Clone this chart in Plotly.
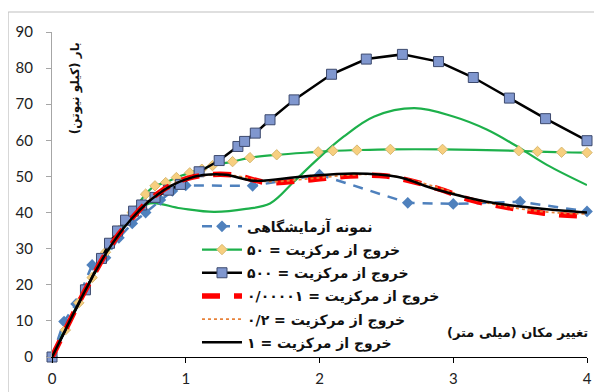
import plotly.graph_objects as go

# ---------------- data ----------------
exp_x = [0, 0.09, 0.18, 0.30, 0.40, 0.50, 0.60, 0.70, 0.81, 0.90, 1.0, 1.50, 2.0, 2.66, 3.0, 3.5, 4.0]
exp_y = [0, 9.8, 14.7, 25.5, 27.5, 33.0, 37.0, 40.0, 43.5, 46.0, 47.5, 47.4, 50.5, 42.7, 42.4, 43.0, 40.3]

e50_x = [0, 0.1, 0.2, 0.3, 0.4, 0.5, 0.6, 0.7, 0.77, 0.85, 0.93, 1.03, 1.12, 1.20, 1.35, 1.48, 1.68, 1.99, 2.10, 2.28, 2.53, 2.92, 3.49, 3.63, 3.81, 4.0]
e50_y = [0, 7.5, 15, 22, 29, 35, 40, 45.1, 47.4, 48.3, 49.7, 51.0, 52.0, 53.0, 54.1, 55.2, 56.0, 56.8, 57.1, 57.3, 57.5, 57.5, 57.1, 56.9, 56.7, 56.6]

e500_x = [0, 0.25, 0.37, 0.43, 0.49, 0.55, 0.61, 0.67, 0.77, 0.87, 0.96, 1.10, 1.25, 1.39, 1.44, 1.52, 1.63, 1.81, 2.09, 2.35, 2.62, 2.89, 3.15, 3.42, 3.69, 4.0]
e500_y = [0, 18.6, 27.3, 31.5, 34.9, 37.9, 40.4, 42.1, 44.2, 46.2, 47.8, 51.3, 54.4, 58.3, 59.7, 62.0, 65.7, 71.2, 78.3, 82.5, 83.8, 81.8, 77.4, 71.7, 66.0, 59.9]

eg_x = [0, 0.1, 0.2, 0.3, 0.4, 0.5, 0.6, 0.73, 0.96, 1.21, 1.45, 1.63, 1.81, 1.98, 2.18, 2.41, 2.71, 3.0, 3.25, 3.46, 3.70, 4.0]
eg_y = [0, 8, 15, 22, 28, 34, 39, 42.5, 41.2, 40.2, 41.0, 42.5, 48.6, 54.6, 61.0, 66.6, 68.9, 66.6, 63.0, 58.7, 53.2, 47.6]

e00001_x = [0, 0.1, 0.2, 0.3, 0.4, 0.5, 0.6, 0.7, 0.8, 0.9, 1.0, 1.15, 1.36, 1.61, 1.91, 2.23, 2.5, 2.88, 3.13, 3.38, 3.68, 3.98]
e00001_y = [0, 7.5, 15, 22, 28.5, 34, 38.5, 42.5, 45.5, 47.8, 49.3, 50.4, 50.4, 48.3, 49.0, 50.1, 50.1, 46.7, 43.5, 41.6, 39.8, 39.0]

e02_x = [0, 0.1, 0.2, 0.3, 0.4, 0.5, 0.6, 0.7, 0.8, 0.9, 1.0, 1.15, 1.36, 1.61, 1.91, 2.23, 2.5, 2.88, 3.13, 3.38, 3.68, 4.0]
e02_y = [0, 7.5, 15, 22, 28.5, 34, 38.5, 42.5, 45.5, 47.8, 49.3, 50.3, 50.2, 48.6, 49.3, 50.4, 50.4, 47.0, 43.8, 41.8, 40.2, 39.6]

e1_x = [0, 0.1, 0.2, 0.3, 0.4, 0.5, 0.6, 0.7, 0.8, 0.9, 1.0, 1.13, 1.30, 1.51, 1.88, 2.26, 2.58, 2.88, 3.25, 3.63, 4.0]
e1_y = [0, 7.5, 15, 22, 28.5, 34, 38.5, 42.3, 45.3, 47.6, 49.2, 50.4, 50.5, 48.8, 50.0, 50.8, 49.9, 46.3, 43.0, 41.2, 40.0]

names = [
    "نمونه آزمایشگاهی",
    "خروج از مرکزیت = ۵۰",
    "خروج از مرکزیت = ۵۰۰",
    "خروج از مرکزیت = ۰/۰۰۰۰۱",
    "خروج از مرکزیت = ۰/۲",
    "خروج از مرکزیت = ۱",
]
x_ticks = [0, 1, 2, 3, 4]
y_ticks = [0, 10, 20, 30, 40, 50, 60, 70, 80, 90]
y_title = "بار (کیلو نیوتن)"
x_title = "تغییر مکان (میلی متر)"

# ---------------- figure ----------------
fig = go.Figure()

fig.add_trace(go.Scatter(x=eg_x, y=eg_y, mode="lines", showlegend=False,
                         line=dict(color="#1db04b", width=2.2, shape="spline")))

fig.add_trace(go.Scatter(x=exp_x, y=exp_y, mode="lines+markers", name=names[0], legendgroup="g0",
                         cliponaxis=False,
                         line=dict(color="#4f81bd", width=2.5, dash="10px,8px"),
                         marker=dict(symbol="diamond", size=9, color="#4f81bd")))

fig.add_trace(go.Scatter(x=e50_x, y=e50_y, mode="lines+markers", name=names[1], legendgroup="g1",
                         cliponaxis=False,
                         line=dict(color="#1db04b", width=2.2, shape="spline"),
                         marker=dict(symbol="diamond", size=8, color="#f7cf7f",
                                     line=dict(color="#d8b870", width=1))))

fig.add_trace(go.Scatter(x=e500_x, y=e500_y, mode="lines+markers", name=names[2], legendgroup="g2",
                         cliponaxis=False,
                         line=dict(color="#000000", width=2.5),
                         marker=dict(symbol="square", size=10, color="#8097cf",
                                     line=dict(color="#3d4a6e", width=1))))

fig.add_trace(go.Scatter(x=e00001_x, y=e00001_y, mode="lines", name=names[3], legendgroup="g3",
                         line=dict(color="#ff0000", width=5.5, dash="18px,14px", shape="spline")))

fig.add_trace(go.Scatter(x=e02_x, y=e02_y, mode="lines", name=names[4], legendgroup="g4",
                         line=dict(color="#e8823a", width=1.8, dash="dot", shape="spline")))

fig.add_trace(go.Scatter(x=e1_x, y=e1_y, mode="lines", name=names[5], legendgroup="g5",
                         line=dict(color="#000000", width=2.5, shape="spline")))

tickfont = dict(family="Lato, Open Sans, sans-serif", size=15, color="#222")

fig.update_layout(
    width=602, height=392,
    margin=dict(l=44, r=23, t=24, b=43, autoexpand=False),
    paper_bgcolor="white", plot_bgcolor="white",
    showlegend=True,
    legend=dict(x=0.271, y=0.45, xanchor="left", yanchor="top",
                bgcolor="rgba(0,0,0,0)", borderwidth=0,
                font=dict(family="DejaVu Sans", size=14, color="#111", weight="bold"),
                tracegroupgap=2, itemwidth=40),
    xaxis=dict(range=[0, 4], tickvals=x_ticks, ticktext=[str(v) for v in x_ticks],
               showgrid=False, zeroline=False, showline=True, linecolor="#000",
               linewidth=1, ticks="outside", ticklen=5, tickcolor="#000",
               ticklabelstandoff=3, automargin=False,
               tickfont=tickfont, fixedrange=True),
    yaxis=dict(range=[0, 90], tickvals=y_ticks, ticktext=[str(v) for v in y_ticks],
               showgrid=False, zeroline=False, showline=True, linecolor="#a6a6a6",
               linewidth=1, ticks="outside", ticklen=5, tickcolor="#a6a6a6",
               ticklabelstandoff=10, automargin=False,
               tickfont=tickfont, fixedrange=True),
    annotations=[
        dict(text="<b>" + y_title + "</b>", xref="paper", yref="paper",
             x=0.043, y=0.975, xanchor="center", yanchor="top", textangle=-90,
             showarrow=False, font=dict(family="DejaVu Sans", size=12, color="#111")),
        dict(text="<b>" + x_title + "</b>", xref="paper", yref="paper",
             x=1.005, y=0.074, xanchor="right", yanchor="middle",
             showarrow=False, font=dict(family="DejaVu Sans", size=13, color="#111")),
    ],
    shapes=[
        dict(type="rect", xref="paper", yref="paper",
             x0=-0.082, x1=1.2, y0=-0.3, y1=1.0615,
             line=dict(color="#bfbfbf", width=1), fillcolor="rgba(0,0,0,0)",
             layer="below"),
    ],
)

fig.write_html("out.html")
